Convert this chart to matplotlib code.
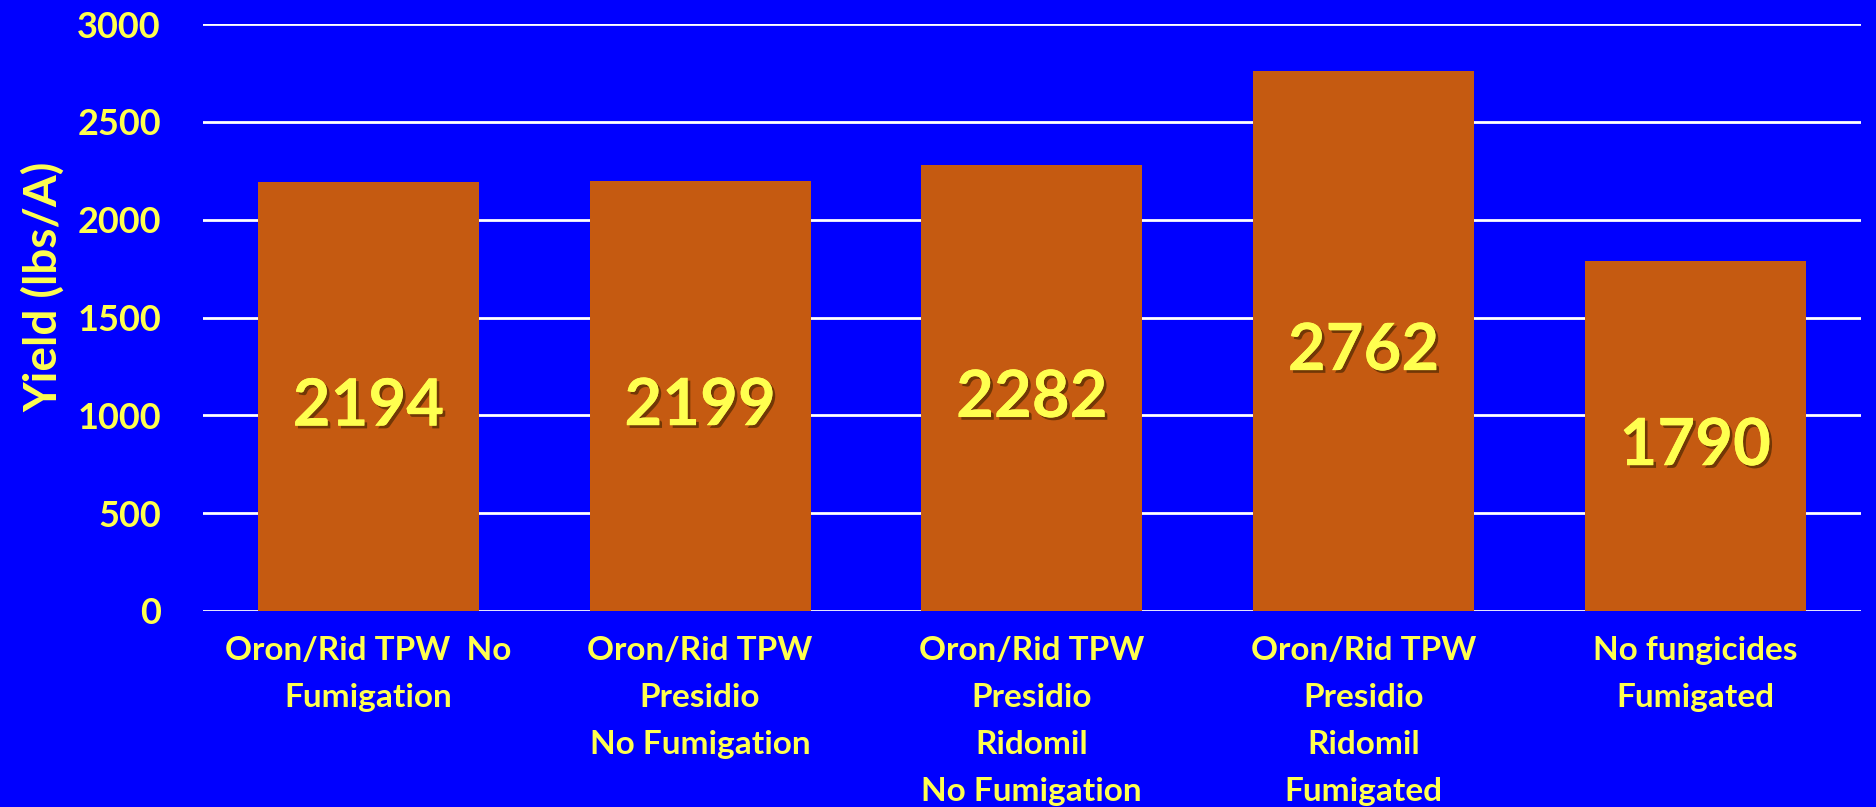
import matplotlib
matplotlib.use('Agg')
import matplotlib.pyplot as plt
import matplotlib.patheffects as pe
import numpy as np

# data
treatments = ['Oron/Rid TPW  No\nFumigation',
              'Oron/Rid TPW\nPresidio\nNo Fumigation',
              'Oron/Rid TPW\nPresidio\nRidomil\nNo Fumigation',
              'Oron/Rid TPW\nPresidio\nRidomil\nFumigated',
              'No fungicides\nFumigated']
yields = [2194, 2199, 2282, 2762, 1790]
yticks = [0, 500, 1000, 1500, 2000, 2500, 3000]

BG = '#0000FF'
BAR = '#C55A11'
YEL = '#FFFF4F'

plt.rcParams['font.family'] = ['Lato', 'DejaVu Sans']
plt.rcParams['font.weight'] = 'bold'

fig = plt.figure(figsize=(18.76, 8.07), dpi=100)
fig.patch.set_facecolor(BG)
ax = fig.add_axes([0.108, 0.243, 0.884, 0.727])
ax.set_facecolor(BG)

x = np.arange(len(yields))
ax.set_axisbelow(True)
ax.yaxis.grid(True, color='white', linewidth=2)
ax.bar(x, yields, width=0.667, color=BAR, zorder=2)

shadow = [pe.withSimplePatchShadow(offset=(2, -2), shadow_rgbFace='#3a2000', alpha=0.6),
          pe.Normal()]
for xi, v in zip(x, yields):
    ax.text(xi, v / 2 - 55, str(v), ha='center', va='center', color=YEL,
            fontsize=47, fontweight='bold', path_effects=shadow, zorder=3)

ax.set_xlim(-0.5, len(yields) - 0.5)
ax.set_ylim(0, 3000)
ax.set_yticks(yticks)
ax.set_xticks(x)
ax.set_xticklabels(treatments, linespacing=1.75, va='top')
ax.tick_params(axis='both', length=0, colors=YEL)
ax.tick_params(axis='y', labelsize=26, pad=30)
ax.tick_params(axis='x', labelsize=24, pad=18)
for lab in ax.get_xticklabels() + ax.get_yticklabels():
    lab.set_fontweight('bold')
for s in ax.spines.values():
    s.set_visible(False)

fig.text(43 / 1876, 1 - 287 / 807, 'Yield (lbs/A)', rotation=90, ha='center', va='center',
         color=YEL, fontsize=33, fontweight='bold')

fig.savefig('out.png', dpi=100, facecolor=BG)
